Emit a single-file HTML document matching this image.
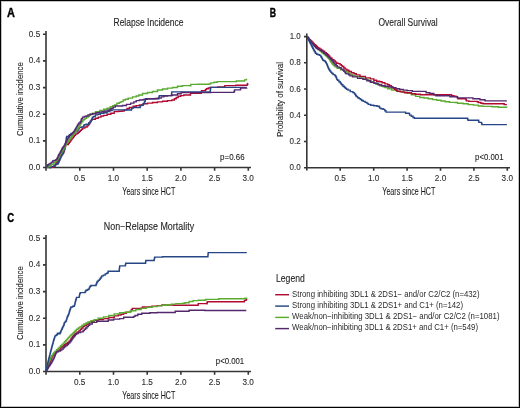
<!DOCTYPE html>
<html><head><meta charset="utf-8"><style>
html,body{margin:0;padding:0;background:#fff;}
body{width:520px;height:408px;overflow:hidden;}
svg{display:block;will-change:transform;}
text{font-family:"Liberation Sans",sans-serif;fill:#333;}
.t{font-size:10.2px;fill:#1e1e1e;stroke:#1e1e1e;stroke-width:0.1px;}
.k{font-size:8.4px;fill:#1a1a1a;stroke:#1a1a1a;stroke-width:0.1px;}
.al{font-size:10.5px;fill:#1a1a1a;stroke:#1a1a1a;stroke-width:0.08px;}
.p{font-size:8.2px;fill:#1a1a1a;stroke:#1a1a1a;stroke-width:0.08px;}
.L{font-size:12px;font-weight:bold;fill:#000;stroke:#000;stroke-width:0.35px;}
.lg{font-size:8.5px;fill:#2a2a2a;}
.ax{stroke:#363636;stroke-width:1.6;fill:none;}
.c{fill:none;stroke-width:1.4;stroke-linejoin:miter;}
.r{stroke:#b00a32;}
.b{stroke:#264686;}
.g{stroke:#5aab30;}
.u{stroke:#53286e;}
</style></head><body>
<svg width="520" height="408" viewBox="0 0 520 408">
<g>
<rect x="0" y="0" width="520" height="408" fill="#fff"/>

<!-- ============ PANEL A ============ -->
<text class="L" x="7.1" y="17" textLength="7.9" lengthAdjust="spacingAndGlyphs">A</text>
<text class="t" x="113.5" y="25.8" textLength="70" lengthAdjust="spacingAndGlyphs">Relapse Incidence</text>
<g class="k" text-anchor="end">
<text x="40.2" y="36.8" textLength="11.4" lengthAdjust="spacingAndGlyphs">0.5</text>
<text x="40.2" y="63.4" textLength="11.4" lengthAdjust="spacingAndGlyphs">0.4</text>
<text x="40.2" y="90.1" textLength="11.4" lengthAdjust="spacingAndGlyphs">0.3</text>
<text x="40.2" y="116.7" textLength="11.4" lengthAdjust="spacingAndGlyphs">0.2</text>
<text x="40.2" y="143.4" textLength="11.4" lengthAdjust="spacingAndGlyphs">0.1</text>
<text x="40.2" y="170.0" textLength="11.4" lengthAdjust="spacingAndGlyphs">0.0</text>
</g>
<g class="k" text-anchor="middle">
<text x="79.7" y="180.8" textLength="11.4" lengthAdjust="spacingAndGlyphs">0.5</text>
<text x="113.4" y="180.8" textLength="11.4" lengthAdjust="spacingAndGlyphs">1.0</text>
<text x="147.1" y="180.8" textLength="11.4" lengthAdjust="spacingAndGlyphs">1.5</text>
<text x="180.8" y="180.8" textLength="11.4" lengthAdjust="spacingAndGlyphs">2.0</text>
<text x="214.5" y="180.8" textLength="11.4" lengthAdjust="spacingAndGlyphs">2.5</text>
<text x="248.2" y="180.8" textLength="11.4" lengthAdjust="spacingAndGlyphs">3.0</text>
</g>
<text class="al" x="122.3" y="194.6" textLength="53" lengthAdjust="spacingAndGlyphs">Years since HCT</text>
<text class="al" style="font-size:9.4px" transform="translate(22.5,136) rotate(-90)" x="0" y="0" textLength="73.7" lengthAdjust="spacingAndGlyphs">Cumulative incidence</text>
<text class="p" x="220.1" y="159.6" textLength="24.5" lengthAdjust="spacingAndGlyphs">p=0.66</text>
<path class="ax" d="M46,31 V170.8 M43,167.5 H251 M43,34.3 H46.1 M43,60.9 H46.1 M43,87.6 H46.1 M43,114.2 H46.1 M43,140.9 H46.1 M79.8,167.5 V170.8 M113.5,167.5 V170.8 M147.2,167.5 V170.8 M180.9,167.5 V170.8 M214.6,167.5 V170.8 M248.3,167.5 V170.8"/>

<!-- ============ PANEL B ============ -->
<text class="L" x="269.7" y="16.8" textLength="6.3" lengthAdjust="spacingAndGlyphs">B</text>
<text class="t" x="378.5" y="25.7" textLength="59.2" lengthAdjust="spacingAndGlyphs">Overall Survival</text>
<g class="k" text-anchor="end">
<text x="300.7" y="39.2" textLength="11" lengthAdjust="spacingAndGlyphs">1.0</text>
<text x="300.7" y="65.4" textLength="11.2" lengthAdjust="spacingAndGlyphs">0.8</text>
<text x="300.7" y="91.6" textLength="11.2" lengthAdjust="spacingAndGlyphs">0.6</text>
<text x="300.7" y="117.9" textLength="11.2" lengthAdjust="spacingAndGlyphs">0.4</text>
<text x="300.7" y="144.1" textLength="11.2" lengthAdjust="spacingAndGlyphs">0.2</text>
<text x="300.7" y="170.3" textLength="11.2" lengthAdjust="spacingAndGlyphs">0.0</text>
</g>
<g class="k" text-anchor="middle">
<text x="340.2" y="180.8" textLength="11.4" lengthAdjust="spacingAndGlyphs">0.5</text>
<text x="373.7" y="180.8" textLength="11.4" lengthAdjust="spacingAndGlyphs">1.0</text>
<text x="407.1" y="180.8" textLength="11.4" lengthAdjust="spacingAndGlyphs">1.5</text>
<text x="440.5" y="180.8" textLength="11.4" lengthAdjust="spacingAndGlyphs">2.0</text>
<text x="473.9" y="180.8" textLength="11.4" lengthAdjust="spacingAndGlyphs">2.5</text>
<text x="507.3" y="180.8" textLength="11.4" lengthAdjust="spacingAndGlyphs">3.0</text>
</g>
<text class="al" x="382.3" y="194.6" textLength="53" lengthAdjust="spacingAndGlyphs">Years since HCT</text>
<text class="al" style="font-size:9.4px" transform="translate(283.2,137) rotate(-90)" x="0" y="0" textLength="75" lengthAdjust="spacingAndGlyphs">Probability of survival</text>
<text class="p" x="475.1" y="159.8" textLength="28.4" lengthAdjust="spacingAndGlyphs">p&lt;0.001</text>
<path class="ax" d="M306.8,33.4 V170.6 M304,167.7 H510 M304,36.6 H306.8 M304,62.8 H306.8 M304,89 H306.8 M304,115.3 H306.8 M304,141.5 H306.8 M340.2,167.7 V170.8 M373.7,167.7 V170.8 M407.1,167.7 V170.8 M440.5,167.7 V170.8 M473.9,167.7 V170.8 M507.3,167.7 V170.8"/>

<!-- ============ PANEL C ============ -->
<text class="L" x="7.2" y="222.2" textLength="6.9" lengthAdjust="spacingAndGlyphs">C</text>
<text class="t" x="103.8" y="229.8" textLength="90.3" lengthAdjust="spacingAndGlyphs">Non&#8722;Relapse Mortality</text>
<g class="k" text-anchor="end">
<text x="40.2" y="240.8" textLength="11.4" lengthAdjust="spacingAndGlyphs">0.5</text>
<text x="40.2" y="267.4" textLength="11.4" lengthAdjust="spacingAndGlyphs">0.4</text>
<text x="40.2" y="294.1" textLength="11.4" lengthAdjust="spacingAndGlyphs">0.3</text>
<text x="40.2" y="320.7" textLength="11.4" lengthAdjust="spacingAndGlyphs">0.2</text>
<text x="40.2" y="347.4" textLength="11.4" lengthAdjust="spacingAndGlyphs">0.1</text>
<text x="40.2" y="374.0" textLength="11.4" lengthAdjust="spacingAndGlyphs">0.0</text>
</g>
<g class="k" text-anchor="middle">
<text x="79.7" y="384.8" textLength="11.4" lengthAdjust="spacingAndGlyphs">0.5</text>
<text x="113.4" y="384.8" textLength="11.4" lengthAdjust="spacingAndGlyphs">1.0</text>
<text x="147.1" y="384.8" textLength="11.4" lengthAdjust="spacingAndGlyphs">1.5</text>
<text x="180.8" y="384.8" textLength="11.4" lengthAdjust="spacingAndGlyphs">2.0</text>
<text x="214.5" y="384.8" textLength="11.4" lengthAdjust="spacingAndGlyphs">2.5</text>
<text x="248.2" y="384.8" textLength="11.4" lengthAdjust="spacingAndGlyphs">3.0</text>
</g>
<text class="al" x="122.3" y="398.6" textLength="53" lengthAdjust="spacingAndGlyphs">Years since HCT</text>
<text class="al" style="font-size:9.4px" transform="translate(22.5,340) rotate(-90)" x="0" y="0" textLength="73.7" lengthAdjust="spacingAndGlyphs">Cumulative incidence</text>
<text class="p" x="215.8" y="363.5" textLength="28.4" lengthAdjust="spacingAndGlyphs">p&lt;0.001</text>
<path class="ax" d="M46,235 V374.8 M43,371.5 H251 M43,238.3 H46.1 M43,264.9 H46.1 M43,291.6 H46.1 M43,318.2 H46.1 M43,344.9 H46.1 M79.8,371.5 V374.8 M113.5,371.5 V374.8 M147.2,371.5 V374.8 M180.9,371.5 V374.8 M214.6,371.5 V374.8 M248.3,371.5 V374.8"/>

<!-- ============ LEGEND ============ -->
<text class="t" x="276" y="281.9" textLength="28.8" lengthAdjust="spacingAndGlyphs" style="font-size:10.2px">Legend</text>
<path class="c r" d="M275.2,294.7 H289" style="stroke-width:1.45"/>
<path class="c b" d="M275.2,306.1 H289" style="stroke-width:1.45"/>
<path class="c g" d="M275.2,317.4 H289" style="stroke-width:1.45"/>
<path class="c u" d="M275.2,328.6 H289" style="stroke-width:1.45"/>
<text class="lg" x="292.1" y="297" textLength="187.4" lengthAdjust="spacingAndGlyphs">Strong inhibiting 3DL1 &amp; 2DS1&#8722; and/or C2/C2 (n=432)</text>
<text class="lg" x="292.1" y="307.8" textLength="170.9" lengthAdjust="spacingAndGlyphs">Strong inhibiting 3DL1 &amp; 2DS1+ and C1+ (n=142)</text>
<text class="lg" x="292.1" y="319.2" textLength="207.4" lengthAdjust="spacingAndGlyphs">Weak/non&#8722;inhibiting 3DL1 &amp; 2DS1&#8722; and/or C2/C2 (n=1081)</text>
<text class="lg" x="292.1" y="330.1" textLength="185.9" lengthAdjust="spacingAndGlyphs">Weak/non&#8722;inhibiting 3DL1 &amp; 2DS1+ and C1+ (n=549)</text>

<!-- CURVES -->
<!-- curves A -->
<path class="c r" d="M49.0,167.6H50.5V167.2H52.1H53.5V166.4H54.8H55.1V165.1H55.6V163.9H56.1V162.6H56.4H57.0V162.1H57.5H57.9V161.0H58.6V159.9H59.3V158.8H59.7H60.0V157.7H60.5V156.6H60.8H61.2V155.6H62.0V154.5H62.4H62.8V153.2H63.6V151.8H64.0H64.1V150.8H64.4V149.8H64.7V148.8H64.8H65.0V147.7H65.2V146.7H65.5V145.6H65.8V144.5H66.0H67.9H68.4V143.3H69.2V142.1H69.7H70.2V140.8H71.1V139.6H71.6H72.0V138.4H73.0V137.2H73.4H73.7V136.2H74.3V135.3H74.6H75.5V134.1H76.5H77.1V133.2H78.3V132.3H78.9H79.4V131.4H80.3V130.4H80.8H81.4V129.2H82.7V128.1H83.3H84.9V127.0H86.6H87.1V125.9H88.2V124.8H88.8H89.1V123.7H89.7V122.6H90.2V121.5H90.5H90.9V120.4H91.7V119.3H92.1H94.3H95.4V118.2H96.6H98.2V117.1H99.9H101.0V116.0H102.0H103.7V115.4H105.4H107.1V114.3H108.7H110.9V113.2H113.1H114.2V111.6H115.3H118.6V111.3H121.9V111.0H124.2V109.9H126.4H127.0V108.5H127.5H129.4V107.5H131.3H133.2V106.3H135.0H136.2V105.6H137.5H139.4V105.0H141.3H143.2V103.8H145.0H147.5V103.1H150.0H152.5V102.5H155.0H157.5V101.9H160.0H162.5V101.3H165.0H167.5V100.6H170.0H171.9V100.0H173.8H174.4V98.8H175.0H176.2V97.5H177.5H178.2V96.3H178.8H180.7V95.6H182.5H183.8V95.0H185.0H190.2H190.5V93.4H190.8H196.0V93.2H201.0V93.1H201.2V91.8H201.6V90.6H201.8H205.0V90.4H205.5V89.6H206.4V88.7H206.9H208.2V88.0H209.5H210.2V87.4H211.0H217.8V87.0H224.5H224.8V85.6H225.0H235.9V85.2H246.9H247.2V84.3H247.8V83.5H248.1"/>
<path class="c b" d="M48.5,167.6H50.9V166.4H53.2H54.0V165.3H54.8H55.6V164.2H56.4H57.2V163.7H58.0H58.3V162.6H58.8V161.5H59.1H59.4V160.2H59.9V158.8H60.2H60.5V157.5H61.0V156.3H61.5V155.0H61.8H62.1V153.9H62.6V152.9H63.2V151.8H63.5H63.8V150.4H64.2V149.1H64.5H64.6V147.9H64.8V146.8H65.1V145.7H65.3V144.5H65.4H65.5V143.4H65.7V142.2H65.9V141.1H66.1V139.9H66.2V138.8H66.4V137.6H66.6V136.5H66.7H68.5H68.8V135.6H69.4V134.7H69.7H71.0V133.5H72.2H73.4V132.9H74.6H75.5V131.6H76.5H77.0V130.7H77.8V129.8H78.3H78.6V128.6H79.2V127.4H79.5H81.4V127.0H83.3H83.6V125.9H84.1V124.8H84.4H86.1V124.2H87.7H88.8V122.6H89.9H90.3V121.5H91.2V120.4H91.6H91.8V119.3H92.2V118.2H92.5V117.1H92.7H93.5V116.5H94.3H95.4V114.9H96.6H97.7V114.3H98.8H100.4V113.2H102.0H103.7V112.7H105.4H107.1V111.6H108.7H109.8V110.5H110.9H112.0V109.9H113.1H118.6H125.0V110.0H131.3H131.5V109.0H131.8V108.1H131.9H133.4V107.5H135.0H140.0H140.2V106.5H140.4V105.6H140.6H141.6V105.0H142.5H143.2V103.8H143.8H144.1V102.5H144.7V101.3H145.0H145.2V100.0H145.4V98.8H145.6H158.8V98.5H158.9V97.5H159.1V96.6H159.3V95.6H159.4H171.3H171.4V94.4H171.6V93.1H171.8V91.9H171.9H197.9H210.1V91.6H210.2V90.5H210.4V89.5H210.5V88.5H210.7V87.4H210.8H246.7"/>
<path class="c g" d="M46.8,167.6H47.4V166.7H48.8V165.8H49.4H51.0V164.2H52.6H53.7V162.6H54.8H55.3V161.5H56.5V160.4H57.0H57.4V159.1H58.2V157.7H58.6H58.9V156.6H59.4V155.6H59.9V154.5H60.2H60.6V153.4H61.3V152.3H62.0V151.2H62.4H62.8V149.8H63.6V148.5H64.0H64.2V147.5H64.8V146.5H65.2V145.5H65.8V144.5H66.0H66.4V143.3H67.2V142.0H68.1V140.8H68.5H68.9V139.8H69.8V138.8H70.6V137.8H71.0H71.4V136.7H72.1V135.7H72.9V134.6H73.6V133.5H74.0H74.5V132.3H75.5V131.0H76.6V129.8H77.1H77.5V128.6H78.3V127.3H79.1V126.1H79.5H79.8V125.1H80.3V124.1H80.8V123.1H81.1H81.6V121.8H82.8V120.4H83.3H83.8V119.3H85.0V118.2H85.5H86.6V117.1H87.7H88.2V116.2H89.4V115.4H89.9H90.7V114.3H92.4V113.2H93.2H95.5V111.6H97.7H99.8V110.5H102.0H103.7V109.3H105.4H107.1V108.2H108.7H110.3V106.6H112.0H112.8V105.8H114.5V104.9H115.3H116.9V103.3H118.6H119.4V102.4H121.1V101.6H121.9H123.1V100.0H124.2H125.3V99.2H126.4H128.2V98.1H130.0H132.5V96.9H135.0H136.2V96.0H138.8V95.0H140.0H142.5V93.5H145.0H147.5V92.5H150.0H152.5V91.5H155.0H157.5V90.0H160.0H162.5V89.0H165.0H167.5V88.1H170.0H172.5V87.5H175.0H177.5V86.3H180.0H182.5V85.6H185.0H190.2V85.7H190.8V84.4H191.4H197.9V84.2H209.5V83.9H210.8V82.9H212.1H214.0V82.2H215.9H217.2V81.6H218.5H236.0H236.4V81.0H236.8H244.1H244.6V79.9H245.2H246.2V79.4H247.2"/>
<path class="c u" d="M46.5,167.0H47.0V165.9H47.8V164.8H48.3H49.0V163.9H50.3V163.1H51.0H51.5V162.1H52.7V161.0H53.2H54.0V160.4H54.8H55.8V159.6H56.7H56.9V158.6H57.3V157.7H57.5H57.9V156.1H58.3H58.6V154.8H59.4V153.4H59.7H60.1V152.1H60.9V150.7H61.3H61.6V149.3H62.3V148.0H62.6H63.0V147.0H63.7V146.1H64.4V145.1H64.8H65.0V144.0H65.5V142.9H66.0V141.9H66.5V140.8H66.7H67.0V139.6H67.6V138.4H68.2V137.2H68.5H69.1V135.9H70.4V134.7H71.0H71.5V133.7H72.5V132.6H73.5V131.6H74.0H74.3V130.6H74.9V129.5H75.6V128.4H76.2V127.4H76.5H76.8V126.4H77.4V125.3H78.0V124.3H78.3H78.9V123.0H80.2V121.8H80.8H81.0V120.8H81.2V119.7H81.5V118.7H81.7H82.5V117.1H83.3H84.2V116.5H85.0H86.1V116.0H87.2H88.0V114.9H88.8H89.9V114.3H91.0H92.7V113.8H94.3H96.0V112.7H97.7H99.3V112.1H101.0H102.1V111.6H103.2H104.8V111.0H106.5H108.2V109.9H109.8H110.3V109.1H111.5V108.2H112.0H113.1V107.1H114.2H115.3V106.0H116.4H120.8H122.5V105.5H124.2H126.5V104.4H128.8H130.7V103.1H132.5H133.8V101.9H135.0H136.2V100.6H137.5H139.4V100.0H141.3H143.2V99.4H145.0H147.5V98.8H150.0H155.0V98.5H157.5V98.1H160.0H161.2V96.9H162.5H163.8V96.0H165.0H167.5V95.6H170.0H172.5V95.0H175.0H177.5V93.8H180.0H181.2V92.5H182.5H185.0V92.6H210.8V92.4H233.8H234.1V91.2H234.6V89.9H234.9H240.4V89.7H240.5V88.8H240.7V88.0H240.8H246.7V87.8"/>
<!-- curves B -->
<path class="c g" d="M307.5,37.3H307.9V38.4H308.9V39.5H309.8V40.5H310.7V41.6H311.1H311.7V42.8H313.0V44.1H314.2V45.3H314.8H315.6V46.4H316.4H316.8V47.4H317.7V48.3H318.5V49.3H319.4V50.3H319.8H320.5V51.5H322.0V52.7H322.7H323.3V53.7H324.4V54.7H325.6V55.7H326.2H326.8V56.8H327.9V58.0H329.0V59.1H329.6H329.8V60.0H330.3V61.0H330.5H330.9V62.0H331.6V63.0H332.3V64.0H332.7H333.2V65.0H334.1V65.9H335.1V66.9H335.6H337.1V68.4H338.6H340.5V69.9H342.3H344.1V71.3H345.9H346.9V72.0H348.0H348.7V73.2H350.0V74.5H350.7H352.2V75.5H355.1V76.4H356.6H359.6V77.9H362.5H363.7V78.8H366.2V79.8H367.4H368.6V80.8H371.1V81.8H372.3H373.5V83.0H376.0V84.3H377.2H379.6V85.7H382.1H383.1V86.7H385.0V87.6H386.0H387.6V88.8H389.2H391.6V90.0H394.1H396.6V91.2H399.0H402.0V92.2H405.0H407.1V93.2H409.2H411.4V94.8H413.5H415.6V96.4H417.7H419.8V97.5H421.9H424.0V98.0H426.2H428.3V98.8H430.4H432.5V99.6H434.6H436.8V100.3H438.9H441.0V101.0H443.1H445.2V101.7H447.3H449.5V102.4H451.6H455.0V102.5H457.6V103.2H460.3H463.0V103.8H465.6H468.2V104.6H470.9H473.5V105.1H476.2H478.3V106.0H480.4H482.5V106.4H484.6H492.0V106.7H497.3H498.4V107.2H499.4H506.9V107.5"/>
<path class="c r" d="M307.5,37.3H308.1V38.5H309.3V39.7H309.9H310.5V41.0H311.8V42.2H312.4H313.0V43.4H314.2V44.6H314.8H315.3V45.5H316.3V46.5H317.3V47.4H317.8H318.5V48.3H319.9V49.2H320.6H321.4V50.2H322.9V51.3H323.7H324.7V52.8H325.7H326.3V53.8H327.5V54.7H328.1H328.6V55.9H329.6V57.1H330.7V58.3H331.2H332.1V59.6H334.0V61.0H334.9H335.4V62.1H336.6V63.2H337.1H338.2V63.6H339.3H340.1V64.7H340.8H341.4V65.6H342.4V66.5H343.0H343.8V68.0H344.5H345.2V69.1H345.9H346.9V70.2H348.0H349.0V71.5H350.0H351.4V72.8H352.8H354.0V73.8H356.3V74.9H357.5H360.0V76.4H362.5H365.4V77.9H368.3H370.3V78.9H372.3H373.8V80.3H375.2H376.6V81.3H378.1H379.6V81.8H381.1H382.1V82.8H383.0H384.9V83.9H386.8H387.7V84.8H389.5V85.7H390.4H391.3V87.0H393.2V88.2H394.1H394.7V89.2H396.0V90.2H397.2V91.2H397.8H400.2V91.9H402.7H404.5V92.8H406.4H409.2V92.7H411.4V93.8H413.5H415.6V94.3H417.7H420.4V94.8H423.0H434.6H436.7V94.6H450.5H451.6V95.7H452.6H453.8V96.1H455.0H456.1V96.6H457.1H457.4V97.7H457.9V98.8H458.2H465.6H465.9V99.8H466.4V100.9H466.6H468.8V101.4H470.9H477.2V101.7H478.2V102.5H479.3H480.9V103.2H482.5H483.1V103.8H483.6H503.7H504.2V104.6H504.7H506.9"/>
<path class="c u" d="M307.5,37.3H307.9V38.5H308.8V39.8H309.6V41.0H310.0H310.6V42.4H311.9V43.7H312.5H313.1V45.0H314.3V46.4H314.9H315.4V47.5H316.4V48.6H316.9H317.9V49.6H318.8H319.8V50.5H320.8H321.8V51.8H322.7H323.7V53.2H324.7H325.2V54.1H326.2V55.0H326.7H327.2V55.9H328.1V56.7H328.6H329.3V58.1H330.0H330.4V59.1H331.4V60.0H332.2V61.0H332.7H333.2V62.2H334.1V63.5H335.1V64.7H335.6H336.2V65.8H337.3V66.9H337.9H339.0V67.6H340.1H341.2V69.1H342.3H342.9V70.2H343.9V71.3H344.5H344.9V72.4H345.5V73.5H345.9H346.9V73.9H348.0H348.7V74.9H350.0V75.9H350.7H352.6V76.9H354.6H357.6V78.4H360.5H362.9V79.4H365.4H366.9V80.8H368.3H370.3V82.3H372.3H374.2V83.3H376.2H378.1V84.7H380.1H381.6V85.7H383.1H385.0V86.3H386.8H388.6V87.0H390.4H392.2V87.6H394.1H396.0V88.8H397.8H399.6V89.4H401.5H403.2V90.1H405.0H407.1V90.6H409.2H412.4V91.4H415.6H425.1H426.1V92.7H427.2H429.9V93.5H432.5H433.9V94.8H435.2H435.9V95.7H436.7H449.4H449.9V96.7H450.5H455.8V96.9H457.5V97.9H459.2H471.9H472.9V98.8H474.0H479.3H479.9V99.8H480.4H484.6V100.0H485.1V100.9H485.7H506.9"/>
<path class="c b" d="M307.5,37.3H307.8V38.4H308.2V39.5H308.5H308.9V40.9H309.6V42.2H310.0H310.2V43.3H310.8V44.4H311.0H311.2V45.4H311.8V46.4H312.0H312.2V47.3H312.7V48.3H312.9H313.4V49.8H313.9H314.1V50.8H314.6V51.8H314.9H315.4V53.2H315.9H316.6V54.2H317.4H318.1V54.7H318.8H319.6V55.4H320.3H320.8V56.7H321.3H321.6V58.1H322.0H322.4V59.4H322.7H322.9V60.3H323.1H323.9V60.7H324.6H325.0V61.6H325.7V62.5H326.1H326.4V63.6H326.9V64.7H327.2H327.4V65.8H327.7V66.9H327.9H328.2V68.0H328.7V69.1H329.0H329.4V70.2H330.1V71.3H330.5H330.9V72.4H331.9V73.5H332.3H333.2V74.6H334.2H334.9V75.7H335.6H335.8V76.8H336.2V77.9H336.4H336.8V79.4H337.1H337.5V80.3H337.9H338.9V81.8H339.9H340.2V82.8H340.9V83.7H341.6V84.7H341.9H342.9V86.2H343.8H344.3V87.2H345.3V88.2H345.8H346.5V89.2H348.0V90.1H348.7H350.2V91.6H351.7H352.9V92.6H354.1H354.4V93.6H355.0V94.5H355.7V95.5H356.3V96.5H356.6H357.6V97.7H358.5H359.1V98.6H360.4V99.5H361.0H361.7V100.5H363.2V101.4H363.9H365.1V102.4H366.4H367.0V103.4H368.2V104.4H368.8H370.6V105.3H372.3H373.8V105.8H375.2H377.1V106.3H379.1H379.3V107.2H379.8V108.1H380.0H381.0V108.7H382.0H383.1V109.4H384.1H384.8V110.8H385.4H386.0V112.1H386.7H404.9H405.6V113.2H406.3H409.0V113.5H409.6V115.1H410.3H411.3V116.2H412.3H413.0V117.5H413.7H414.4V118.2H415.0H467.5H467.6V119.2H468.0V120.2H468.1H478.5H478.6V121.3H478.9V122.4H479.0H481.5V122.8H481.6V123.7H482.0V124.6H482.1H506.9"/>
<!-- curves C -->
<path class="c r" d="M46.4,370.5H46.6V369.4H47.0V368.4H47.4V367.4H47.8V366.3H48.0H48.2V365.3H48.8V364.3H49.2V363.3H49.8V362.3H50.0H50.2V361.1H50.7V360.0H51.2V358.9H51.7V357.7H51.9H52.1V356.7H52.6V355.7H53.1V354.7H53.6V353.7H53.9H54.4V352.7H55.4V351.7H55.9H57.2V350.4H58.6H59.2V349.1H60.6V347.8H61.2H61.9V346.8H63.1V345.8H63.8H64.5V344.8H65.8V343.8H66.5H67.3V342.5H69.0V341.2H69.8H70.1V340.2H70.8V339.2H71.4V338.2H72.1V337.2H72.4H72.8V336.2H73.6V335.2H74.5V334.2H75.3V333.2H75.7H77.1V331.9H78.4H79.1V330.6H80.3V329.3H81.0H81.7V328.0H83.0V326.6H83.7H84.7V325.3H86.7V324.0H87.7H88.3V323.1H89.4V322.2H90.0H91.3V321.2H94.1V320.2H95.4H98.1V319.6H100.8H103.5V318.6H106.2H108.8V317.5H111.5H114.2V315.9H116.9H118.2V315.0H121.0V314.2H122.3H123.7V313.2H126.3V312.2H127.7H130.4V311.9H130.7V310.7H131.4V309.5H131.7H132.4V308.4H133.1H141.1V308.1H142.4V307.0H143.8H149.2H151.9V306.1H154.6H157.1V305.6H159.6H161.9V305.0H164.2H171.2H173.5V305.2H197.7H198.2V303.6H198.8H206.9V303.8H207.0V302.8H207.3V301.8H207.4H243.9H244.4V300.4H244.9H246.1V299.6H247.3"/>
<path class="c g" d="M46.4,369.6H46.6V368.4H46.9V367.2H47.2V366.1H47.5V364.9H47.8V363.7H48.0H48.2V362.7H48.8V361.7H49.2V360.7H49.8V359.7H50.0H50.2V358.7H50.7V357.7H51.2V356.7H51.7V355.7H51.9H52.4V354.6H53.2V353.5H54.1V352.4H54.6H55.2V351.1H56.6V349.8H57.2H57.9V348.5H59.2V347.1H59.9H60.5V345.8H61.9V344.5H62.5H63.2V343.1H64.5V341.8H65.2H65.6V340.7H66.5V339.6H67.4V338.5H67.8H68.5V337.2H69.8V335.9H70.5H71.0V334.8H72.2V333.7H73.2V332.6H73.8H74.3V331.5H75.4V330.4H76.5V329.3H77.1H78.1V328.0H80.0V326.6H81.0H82.0V325.3H84.0V324.0H85.0H86.0V323.0H88.0V322.0H89.0H91.0V320.7H92.9H94.2V319.6H95.4H98.1V318.2H100.8H103.5V316.9H106.2H108.8V315.5H111.5H114.2V313.9H116.9H119.6V312.8H122.3H125.0V312.2H127.7H130.4V310.8H133.1H135.8V309.5H138.5H141.2V308.4H143.8H146.5V307.4H149.2H152.1V306.6H155.0H157.3V305.9H159.6H161.9V305.2H164.2H166.5V304.8H168.8H171.2V304.1H173.5H175.8V303.6H178.1H182.7V303.3H185.0V302.7H187.3H189.1V301.5H190.8H193.1V300.6H195.4H198.2V300.2H201.1H205.0V300.0H205.9V299.4H206.9H218.5H218.7V298.7H218.9H244.4H244.9V298.3H245.4H247.3"/>
<path class="c u" d="M46.4,370.9H46.7V369.9H47.2V368.9H47.8V368.0H48.3V367.0H48.6H48.9V366.0H49.6V365.0H50.3V364.0H51.0V363.0H51.3H51.6V361.9H52.3V360.7H52.9V359.5H53.6V358.4H53.9H54.1V357.3H54.5V356.3H54.9V355.2H55.3V354.2H55.7V353.1H55.9H56.5V351.7H57.2H58.5V351.1H59.9H60.5V350.1H61.9V349.1H62.5H63.2V347.8H64.5V346.5H65.2H65.8V345.5H67.2V344.5H67.8H68.5V343.1H69.8V341.8H70.5H70.8V340.8H71.5V339.9H72.1V338.9H72.8V337.9H73.1H73.5V336.8H74.4V335.7H75.3V334.6H75.7H76.5V333.6H78.2V332.6H79.0H80.7V331.9H82.4H83.1V330.6H84.3V329.3H85.0H85.7V328.0H87.0V326.6H87.7H88.3V325.3H89.7V324.0H90.3H92.2V322.4H94.0H96.7V321.3H99.4H106.2H108.2V320.0H110.2H113.6V319.1H116.9H119.6V318.6H122.3H123.7V317.3H125.0H133.1H133.8V316.4H135.1V315.5H135.8H137.8V314.2H139.8H141.8V313.2H143.8H149.9V312.8H155.9H157.3V312.5H174.6H175.2V311.3H175.8H188.5H189.1V310.2H189.6H205.0V310.5H246.3"/>
<path class="c b" d="M46.4,370.3H46.5V369.2H46.7V368.2H46.8V367.1H47.0V366.1H47.2V365.0H47.3H47.4V363.9H47.7V362.9H48.0V361.8H48.2V360.8H48.5V359.7H48.6H48.7V358.6H49.0V357.6H49.3V356.5H49.6V355.5H49.9V354.4H50.0H50.1V353.3H50.4V352.3H50.6V351.2H50.9V350.2H51.2V349.1H51.3H51.5V348.0H51.8V346.8H52.1V345.6H52.4V344.5H52.6H52.8V343.3H53.1V342.1H53.4V341.0H53.7V339.8H53.9H54.1V338.8H54.4V337.9H54.7V336.9H55.0V335.9H55.2H55.9V335.2H56.6H56.9V334.2H57.6V333.2H57.9H58.9V333.9H59.9H60.1V332.8H60.5V331.7H61.0V330.6H61.2H61.5V329.2H62.2V327.9H62.5H62.8V326.6H63.5V325.3H63.8H64.0V324.0H64.3V322.6H64.5H65.2V321.5H65.8H66.1V320.5H66.4H66.5V319.4H66.8V318.4H67.1V317.3H67.2H67.5V316.2H68.0V315.2H68.5V314.1H68.8H68.9V313.1H69.2V312.0H69.5V311.0H69.6H69.8V310.0H70.2V309.0H70.5V308.0H70.9V307.0H71.1H72.7V306.2H74.3H74.4V305.1H74.7V304.1H75.0V303.0H75.1H75.2V301.9H75.5V300.9H75.8V299.8H75.9H76.1V298.6H76.5V297.4H76.7H79.1H79.2V296.4H79.4V295.4H79.6V294.4H79.8V293.4H79.9H80.3V292.6H80.7H84.7H85.1V291.5H85.9V290.3H86.3H87.5V289.5H88.7H89.0V288.4H89.5V287.4H90.0V286.3H90.3H91.0V285.5H91.8H95.8H96.0V284.5H96.4V283.5H96.8V282.5H97.2V281.5H97.4H98.2V280.4H99.0H99.4V279.4H100.2V278.3H100.6H101.0V277.1H101.8V275.9H102.2H103.4V275.1H104.6H105.2V273.9H105.7H106.7V273.3H107.7H107.9V272.2H108.2V271.2H108.4H119.1H119.2V270.1H119.3V269.1H119.4V268.0H119.6V267.0H119.7V265.9H119.8H125.2H125.4V264.5H125.7V263.2H125.9H145.4H145.6V261.9H145.8V260.5H146.0H154.1H154.2V259.4H154.4V258.2H154.7V257.1H154.8H162.4V256.7H170.0H207.9H207.9V255.7H208.0V254.6H208.1V253.6H208.2V252.6H208.2H246.8"/>
<!-- /CURVES -->
</g>
<rect x="1.5" y="1.5" width="517" height="405" fill="none" stroke="#c4c4c4" stroke-width="1"/>
<rect x="0.5" y="0.5" width="519" height="407" fill="none" stroke="#000" stroke-width="1"/>
</svg>
</body></html>
